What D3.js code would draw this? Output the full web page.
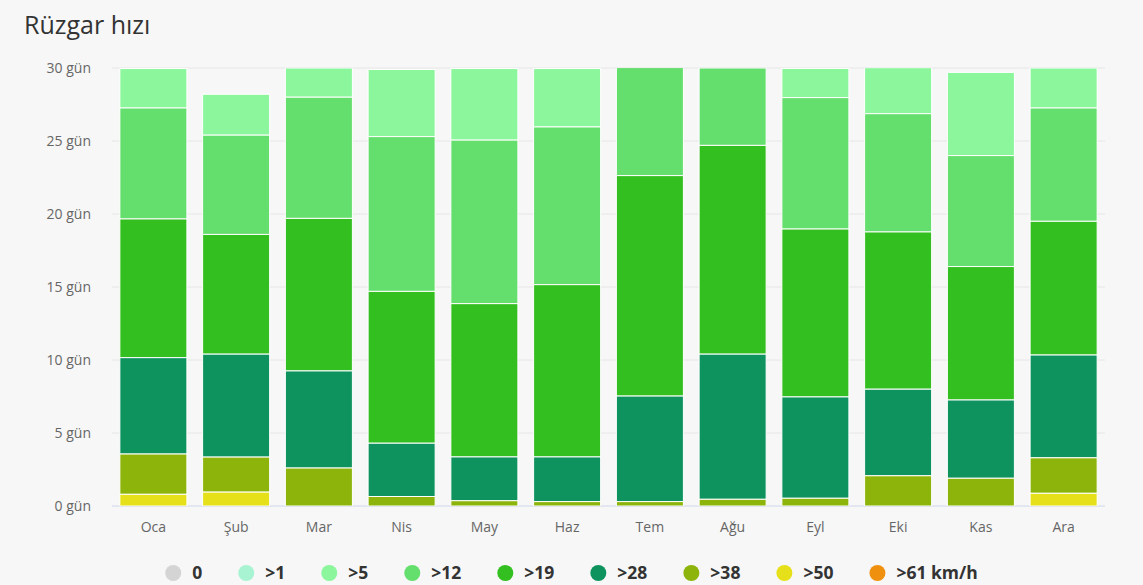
<!DOCTYPE html>
<html>
<head>
    <meta charset="utf-8">
    <title>Rüzgar hızı</title>
    <script src="https://d3js.org/d3.v7.min.js"></script>
    <style>
        body { margin: 0; background: #f7f7f7; }
        svg { display: block; }
    </style>
</head>
<body>
    <div id="chart"></div>
    <script>
        // months and wind speed classes (days per month)
        var months = ["Oca", "Şub", "Mar", "Nis", "May", "Haz", "Tem", "Ağu", "Eyl", "Eki", "Kas", "Ara"];
        var classes = ["0", ">1", ">5", ">12", ">19", ">28", ">38", ">50", ">61 km/h"];
        var colors = ["#d4d4d4", "#a8f4d2", "#8bf69c", "#64de6c", "#34bf20", "#0e935f", "#8db40b", "#e5e01a", "#f0900f"];
        var yTicks = [0, 5, 10, 15, 20, 25, 30];

        var calm   = [0, 0, 0, 0, 0, 0, 0, 0, 0, 0, 0, 0];
        var over1  = [0, 0, 0, 0, 0, 0, 0, 0, 0, 0, 0, 0];
        var over5  = [2.7, 2.8, 2.0, 4.6, 4.9, 4.0, 0, 0, 2.0, 3.15, 5.7, 2.74];
        var over12 = [7.6, 6.8, 8.3, 10.6, 11.2, 10.8, 7.4, 5.3, 9.0, 8.1, 7.6, 7.76];
        var over19 = [9.5, 8.2, 10.45, 10.4, 10.5, 11.8, 15.1, 14.3, 11.5, 10.77, 9.14, 9.16];
        var over28 = [6.6, 7.05, 6.65, 3.65, 3.0, 3.06, 7.23, 9.94, 6.94, 5.93, 5.36, 7.04];
        var over38 = [2.76, 2.4, 2.6, 0.65, 0.36, 0.3, 0.3, 0.46, 0.53, 2.07, 1.9, 2.43];
        var over50 = [0.8, 0.95, 0, 0, 0, 0, 0, 0, 0, 0, 0, 0.87];
        var over61 = [0, 0, 0, 0, 0, 0, 0, 0, 0, 0, 0, 0];

        var series = [calm, over1, over5, over12, over19, over28, over38, over50, over61];

        var width = 1143, height = 585;
        var margin = {top: 68, right: 38, bottom: 79, left: 112};
        var innerW = width - margin.left - margin.right,
            innerH = height - margin.top - margin.bottom;

        var svg = d3.select("#chart")
            .append("svg")
                .attr("width", width)
                .attr("height", height)
                .style("font-family", "'Open Sans', 'Noto Sans', sans-serif");

        svg.append("rect")
            .attr("width", width)
            .attr("height", height)
            .attr("fill", "#f7f7f7");

        svg.append("text")
            .attr("x", 24)
            .attr("y", 34)
            .attr("fill", "#333")
            .style("font-size", "25px")
            .text("Rüzgar hızı");

        var g = svg.append("g")
            .attr("transform", "translate(" + margin.left + "," + margin.top + ")");

        var x = d3.scaleBand()
            .domain(months)
            .range([0, innerW])
            .paddingInner(0.19)
            .paddingOuter(0.095);

        var y = d3.scaleLinear()
            .domain([0, 30])
            .range([innerH, 0]);

        // gridlines + y labels
        g.selectAll(".grid")
            .data(yTicks)
            .enter()
            .append("line")
                .attr("x1", 0)
                .attr("x2", innerW)
                .attr("y1", function(d) { return y(d); })
                .attr("y2", function(d) { return y(d); })
                .attr("stroke", function(d) { return d === 0 ? "#ccd6eb" : "#e6e6e6"; })
                .attr("stroke-width", 1);

        g.selectAll(".ylab")
            .data(yTicks)
            .enter()
            .append("text")
                .attr("x", -21)
                .attr("y", function(d) { return y(d); })
                .attr("dy", "0.35em")
                .attr("text-anchor", "end")
                .attr("fill", "#666")
                .style("font-size", "14px")
                .text(function(d) { return d + " gün"; });

        // stacked bars, highest class at the bottom
        var rows = months.map(function(m, i) {
            var r = {month: m};
            classes.forEach(function(c, k) { r[c] = series[k][i]; });
            return r;
        });

        var stack = d3.stack().keys(classes).order(d3.stackOrderReverse);
        var layers = stack(rows);

        g.append("clipPath")
            .attr("id", "plotclip")
            .append("rect")
                .attr("width", innerW)
                .attr("height", innerH);

        g.append("g")
            .attr("clip-path", "url(#plotclip)")
            .selectAll("g")
            .data(layers)
            .enter()
            .append("g")
                .attr("fill", function(d) { return colors[classes.indexOf(d.key)]; })
            .selectAll("rect")
            .data(function(d) { return d.filter(function(p) { return p[1] - p[0] > 0; }); })
            .enter()
            .append("rect")
                .attr("x", function(d) { return x(d.data.month); })
                .attr("y", function(d) { return y(d[1]); })
                .attr("width", x.bandwidth())
                .attr("height", function(d) { return y(d[0]) - y(d[1]); })
                .attr("stroke", "#ffffff")
                .attr("stroke-width", 1);

        // x labels
        g.selectAll(".xlab")
            .data(months)
            .enter()
            .append("text")
                .attr("x", function(d) { return x(d) + x.bandwidth() / 2; })
                .attr("y", innerH + 26)
                .attr("text-anchor", "middle")
                .attr("fill", "#666")
                .style("font-size", "14px")
                .text(function(d) { return d; });

        // legend
        var legend = svg.append("g")
            .attr("transform", "translate(0," + 573 + ")");

        var items = legend.selectAll("g")
            .data(classes)
            .enter()
            .append("g");

        items.append("circle")
            .attr("r", 8)
            .attr("cx", 8)
            .attr("cy", 0)
            .attr("fill", function(d, k) { return colors[k]; });

        items.append("text")
            .attr("x", 27)
            .attr("dy", "0.35em")
            .attr("fill", "#333")
            .style("font-size", "17.5px")
            .style("font-weight", "bold")
            .text(function(d) { return d; });

        var gap = 36;
        var pos = 0, offsets = [];
        items.each(function() {
            offsets.push(pos);
            pos += this.getBBox().width + gap;
        });
        var totalW = pos - gap;
        var startX = (width - totalW) / 2;
        items.attr("transform", function(d, i) { return "translate(" + (startX + offsets[i]) + ",0)"; });
    </script>
</body>
</html>
